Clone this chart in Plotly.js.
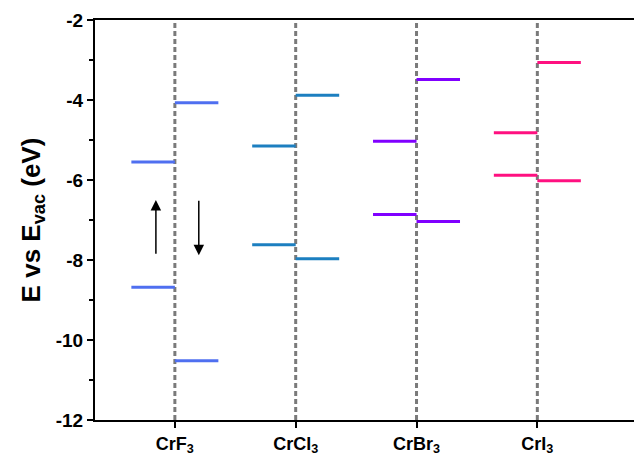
<!DOCTYPE html>
<html>
<head>
<meta charset="utf-8">
<script src="https://cdn.plot.ly/plotly-3.0.1.min.js"></script>
<style>html,body{margin:0;padding:0;background:#fff;}</style>
</head>
<body>
<div id="chart" style="width:634px;height:463px;"></div>
<script>
var categories = ['CrF<sub>3</sub>', 'CrCl<sub>3</sub>', 'CrBr<sub>3</sub>', 'CrI<sub>3</sub>'];
var spinUpLevels = [[-5.55, -8.68], [-5.15, -7.62], [-5.03, -6.86], [-4.82, -5.88]];
var spinDownLevels = [[-4.07, -10.52], [-3.88, -7.97], [-3.49, -7.04], [-3.06, -6.02]];
var colors = ['#4f6ff0', '#1c7fc0', '#8000ff', '#ff1080'];
var yTicks = [-12, -10, -8, -6, -4, -2];

var half = 0.36;
var traces = [];
// dashed guides
categories.forEach(function (c, i) {
  traces.push({x: [i, i], y: [-12, -2], mode: 'lines', hoverinfo: 'skip',
    line: {color: '#7a7a7a', width: 3, dash: '5px,3px'}, showlegend: false});
});
categories.forEach(function (c, i) {
  var xs = [], ys = [];
  spinUpLevels[i].forEach(function (v) { xs.push(i - half, i, null); ys.push(v, v, null); });
  spinDownLevels[i].forEach(function (v) { xs.push(i, i + half, null); ys.push(v, v, null); });
  traces.push({x: xs, y: ys, mode: 'lines', line: {color: colors[i], width: 3}, showlegend: false});
});

var layout = {
  width: 634, height: 463,
  margin: {l: 95, r: 0, t: 20, b: 43},
  paper_bgcolor: '#fff', plot_bgcolor: '#fff',
  showlegend: false,
  xaxis: {
    range: [-0.661, 3.80], tickvals: [0, 1, 2, 3], ticktext: categories,
    showgrid: false, zeroline: false, showline: true, linecolor: '#000', linewidth: 2,
    mirror: true, ticks: 'outside', ticklen: 6, tickwidth: 2, tickcolor: '#000',
    tickfont: {family: 'Arial, Liberation Sans', size: 18, color: '#000', weight: 'bold'}
  },
  yaxis: {
    range: [-12, -2], tickvals: yTicks, ticktext: yTicks.map(String),
    showgrid: false, zeroline: false, showline: true, linecolor: '#000', linewidth: 2,
    ticks: 'outside', ticklen: 6, tickwidth: 2, tickcolor: '#000',
    minor: {dtick: 1, ticks: 'outside', ticklen: 4, tickwidth: 2, tickcolor: '#000'},
    tickfont: {family: 'Arial, Liberation Sans', size: 19, color: '#000', weight: 'bold'},
    title: {text: 'E vs E<sub>vac</sub> (eV)', standoff: 8,
      font: {family: 'Arial, Liberation Sans', size: 26, color: '#000', weight: 'bold'}}
  },
  annotations: [
    {x: -0.157, y: -6.5, ax: -0.157, ay: -7.88, xref: 'x', yref: 'y', axref: 'x', ayref: 'y',
     showarrow: true, arrowhead: 2, arrowsize: 1.4, arrowwidth: 1.5, arrowcolor: '#000', text: ''},
    {x: 0.198, y: -7.88, ax: 0.198, ay: -6.48, xref: 'x', yref: 'y', axref: 'x', ayref: 'y',
     showarrow: true, arrowhead: 2, arrowsize: 1.4, arrowwidth: 1.5, arrowcolor: '#000', text: ''}
  ]
};
Plotly.newPlot('chart', traces, layout, {displayModeBar: false, staticPlot: true});
</script>
</body>
</html>
